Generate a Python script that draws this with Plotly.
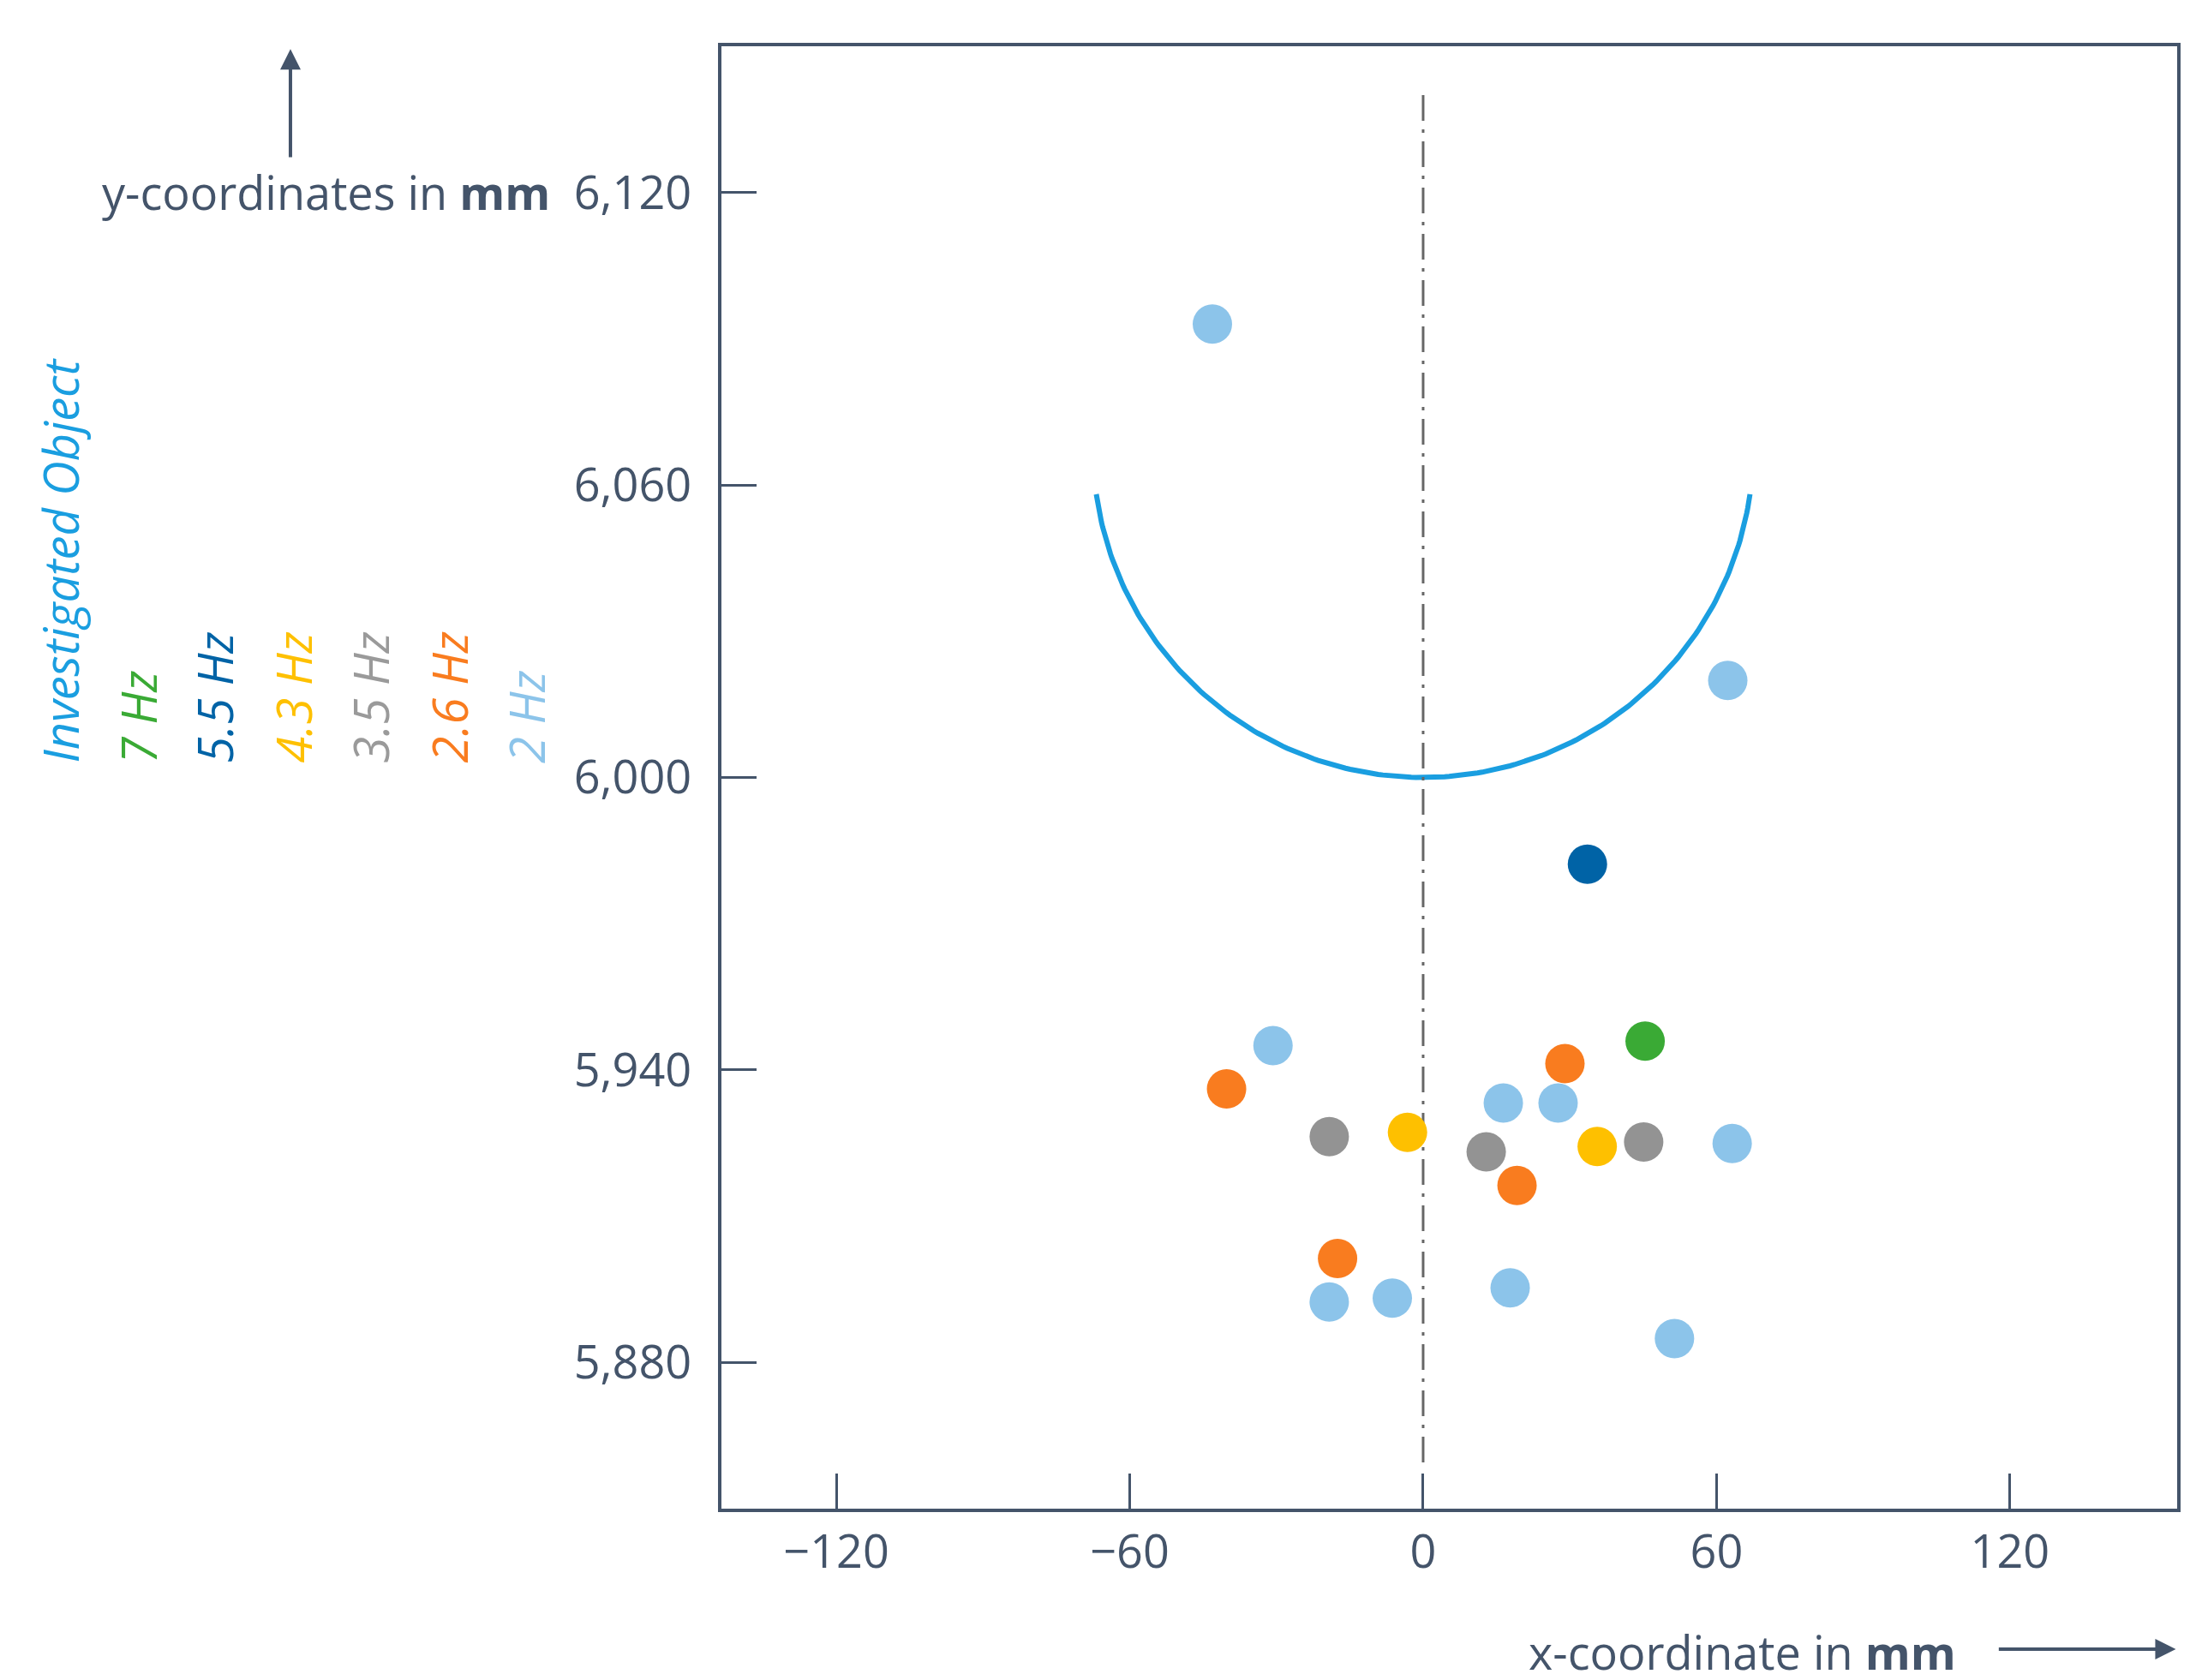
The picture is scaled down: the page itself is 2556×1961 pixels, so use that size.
import numpy as np
import plotly.graph_objects as go

S = 2556 / 1560  # display -> actual px
W, H = 2556, 1961
L, R, T, B = 834, 23, 46, 208
PW, PH = W - L - R, H - T - B

def px(xd):
    return (xd * S - L) / PW

def py(yd):
    return (H - B - yd * S) / PH

# ── Données ───────────────────────────────────────────────────────────────────
x_2hz = [-43.1, 62.3, -30.7, 16.4, 27.6, 63.2, -19.2, -6.3, 17.8, 51.4]
y_2hz = [6093, 6019.9, 5945, 5933.2, 5933.2, 5924.9, 5892.4, 5893.2, 5895.3, 5884.9]
x_26hz = [-40.2, 29.0, 19.2, -17.5]
y_26hz = [5936.1, 5941.3, 5916.3, 5901.3]
x_35hz = [-19.2, 12.9, 45.1]
y_35hz = [5926.3, 5923.2, 5925.2]
x_43hz = [-3.2, 35.6]
y_43hz = [5927.2, 5924.3]
x_55hz = [33.6]
y_55hz = [5982.2]
x_7hz = [45.4]
y_7hz = [5945.9]

arc_center = (0, 6067.5)
arc_radius = 67.5
arc_deg = (-172, -8)

legend_labels = ['Investigated Object', '7 Hz', '5.5 Hz', '4.3 Hz', '3.5 Hz', '2.6 Hz', '2 Hz']
legend_colors = ['#1a9ee0', '#3aaa35', '#0063a6', '#fec000', '#9a9a9a', '#f97c1f', '#8cc4ea']

series = [
    (x_2hz, y_2hz, '#8cc4ea'),
    (x_26hz, y_26hz, '#f97c1f'),
    (x_35hz, y_35hz, '#939393'),
    (x_43hz, y_43hz, '#fec000'),
    (x_55hz, y_55hz, '#0063a6'),
    (x_7hz, y_7hz, '#3aaa35'),
]

TXT = '#44546a'
FONT = 'Open Sans'

fig = go.Figure()

# arc (investigated object)
t = np.radians(np.linspace(arc_deg[0], arc_deg[1], 200))
fig.add_trace(go.Scatter(x=arc_center[0] + arc_radius * np.cos(t),
                         y=arc_center[1] + arc_radius * np.sin(t),
                         mode='lines', line=dict(color='#1a9ee0', width=6),
                         hoverinfo='skip'))

# dash-dot centre line
fig.add_trace(go.Scatter(x=[0, 0], y=[6140, 5858.7], mode='lines',
                         line=dict(color='#666666', width=3, dash='30px,10px,4px,10px'),
                         hoverinfo='skip'))

for xs, ys, c in series:
    fig.add_trace(go.Scatter(x=xs, y=ys, mode='markers',
                             marker=dict(color=c, size=46, line=dict(width=0))))

axis_common = dict(showgrid=False, zeroline=False, ticks='inside', ticklen=41,
                   tickwidth=3, tickcolor=TXT, showline=True, linecolor=TXT,
                   linewidth=4, mirror=True,
                   tickfont=dict(family=FONT, size=54, color=TXT))
fig.update_xaxes(range=[-143.5, 154.2], tickvals=[-120, -60, 0, 60, 120], **axis_common)
fig.update_yaxes(range=[5850, 6150], tickvals=[5880, 5940, 6000, 6060, 6120],
                 tickformat=',d', ticklabelstandoff=20, **axis_common)

ann = []
xs_leg = [38, 93, 148, 204, 259, 315, 370]
for xd, lab, c in zip(xs_leg, legend_labels, legend_colors):
    ann.append(dict(x=px(xd), y=py(540), xref='paper', yref='paper', text=f'<i>{lab}</i>',
                    textangle=-90, showarrow=False, xanchor='center', yanchor='bottom',
                    font=dict(family=FONT, size=56, color=c)))

ann.append(dict(x=px(388), y=py(132), xref='paper', yref='paper',
                text='y-coordinates in <b>mm</b>', showarrow=False,
                xanchor='right', yanchor='middle', font=dict(family=FONT, size=54, color=TXT)))
ann.append(dict(x=px(1390), y=py(1172), xref='paper', yref='paper',
                text='x-coordinate in <b>mm</b>', showarrow=False,
                xanchor='right', yanchor='middle', font=dict(family=FONT, size=54, color=TXT)))
# arrows
ann.append(dict(x=px(202), y=py(30), xref='paper', yref='paper', text='', showarrow=True,
                ax=0, ay=78 * S, arrowhead=2, arrowsize=1.2, arrowwidth=4, arrowcolor=TXT))
ann.append(dict(x=px(1545), y=py(1170), xref='paper', yref='paper', text='', showarrow=True,
                ax=-127 * S, ay=0, arrowhead=2, arrowsize=1.2, arrowwidth=4, arrowcolor=TXT))

fig.update_layout(width=W, height=H, margin=dict(l=L, r=R, t=T, b=B),
                  plot_bgcolor='white', paper_bgcolor='white', showlegend=False,
                  annotations=ann, font=dict(family=FONT, color=TXT))

fig.write_html("out.html")
